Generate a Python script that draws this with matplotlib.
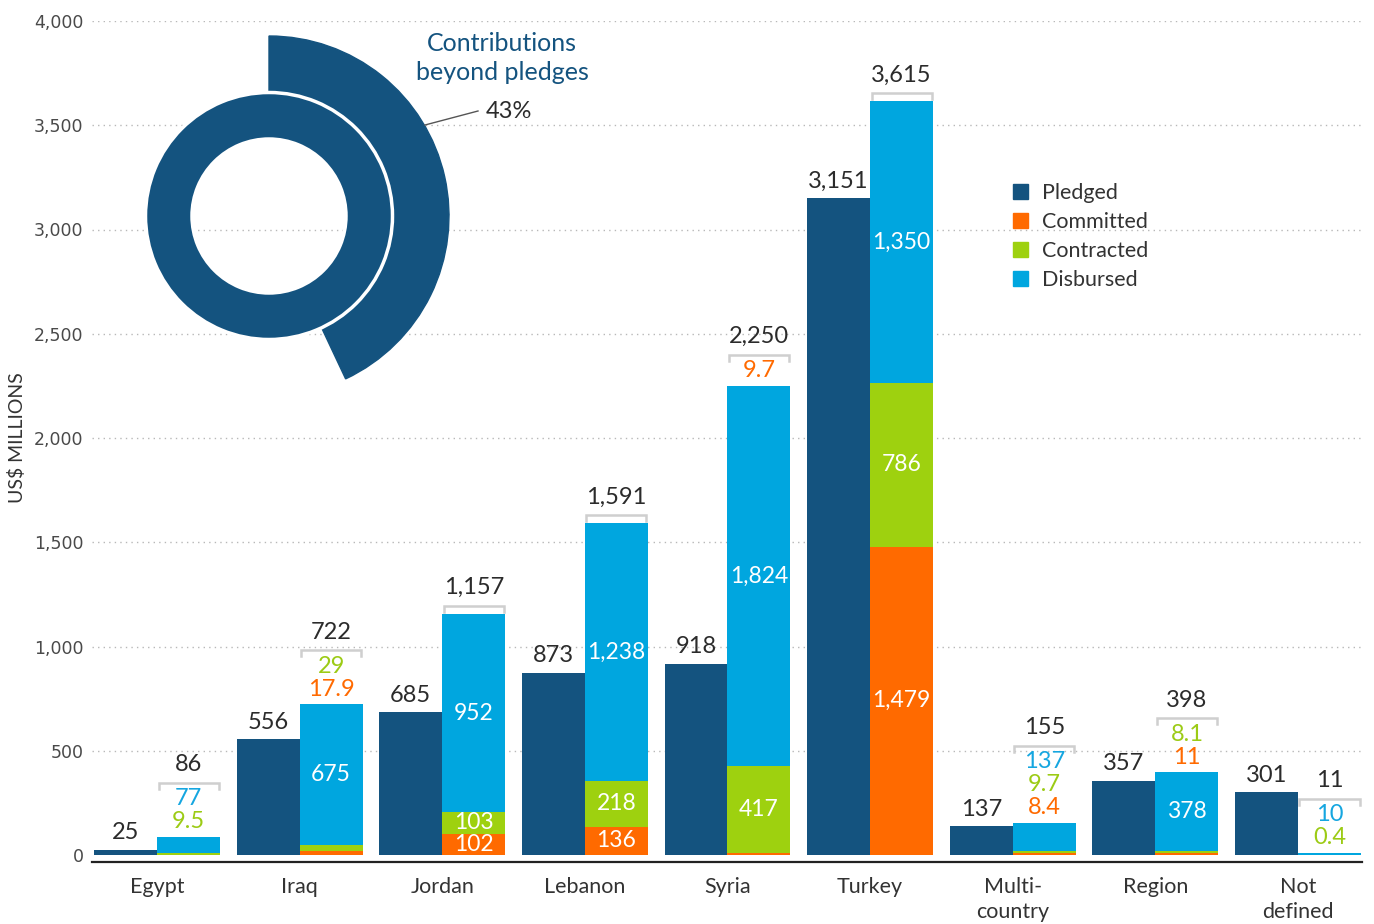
import matplotlib
matplotlib.use("Agg")
import matplotlib.pyplot as plt
from matplotlib.patches import Wedge, Patch
from matplotlib.lines import Line2D

plt.rcParams['font.family'] = ['Lato', 'DejaVu Sans']

# ---------------- data ----------------
countries = ["Egypt", "Iraq", "Jordan", "Lebanon", "Syria", "Turkey",
             "Multi-\ncountry", "Region", "Not\ndefined"]
pledged    = [25, 556, 685, 873, 918, 3151, 137, 357, 301]
committed  = [0, 17.9, 102, 136, 9.7, 1479, 8.4, 11, 0]
contracted = [9.5, 29, 103, 218, 417, 786, 9.7, 8.1, 0.4]
disbursed  = [77, 675, 952, 1238, 1824, 1350, 137, 378, 10]
totals     = [86, 722, 1157, 1591, 2250, 3615, 155, 398, 11]
# where each segment's value label goes: inside the bar, above it, or none
committed_pos  = ['', 'out', 'in', 'in', 'out', 'in', 'out', 'out', '']
contracted_pos = ['out', 'out', 'in', 'in', 'in', 'in', 'out', 'out', 'out']
disbursed_pos  = ['out', 'in', 'in', 'in', 'in', 'in', 'out', 'in', 'out']
legend_labels = ["Pledged", "Committed", "Contracted", "Disbursed"]
yticks = [0, 500, 1000, 1500, 2000, 2500, 3000, 3500, 4000]

# ---------------- style ----------------
C_PLEDGED = '#14537f'
C_COMMIT = '#ff6a00'
C_CONTRACT = '#9ed10f'
C_DISB = '#00a6df'
T_COMMIT = '#ff6a00'
T_CONTRACT = '#9ccb15'
T_DISB = '#15a6e0'
TXT = '#2b2b2b'

W, H = 1374, 924
fig = plt.figure(figsize=(W / 100, H / 100), dpi=100)
ax_l, ax_r, ax_b, ax_t = 92, 1362, 855, 21
ax = fig.add_axes([ax_l / W, 1 - ax_b / H, (ax_r - ax_l) / W, (ax_b - ax_t) / H])
ax.set_ylim(0, 4000)
step = 142.625
ax.set_xlim((ax_l - 157) / step, (ax_r - 157) / step)
for s in ax.spines.values():
    s.set_visible(False)

px = 4000 / (ax_b - ax_t)  # data units per pixel

for yv in yticks[1:]:
    ax.axhline(yv, color='#b8b8b8', lw=1, linestyle=(0, (1, 3)), zorder=0)

ax.set_yticks(yticks)
ax.set_yticklabels([f"{v:,}" for v in yticks], family='DejaVu Sans',
                   fontsize=12.5, color='#4a4a4a')
ax.tick_params(axis='y', length=0, pad=6)
ax.set_ylabel("US$ MILLIONS", fontsize=14, color='#333333', labelpad=6)

x = list(range(len(countries)))
bw = 63 / step
off = 31.5 / step
xp = [i - off for i in x]
xd = [i + off for i in x]

ax.bar(xp, pledged, width=bw, color=C_PLEDGED, zorder=2)
ax.bar(xd, committed, width=bw, color=C_COMMIT, zorder=2)
bot2 = [a for a in committed]
ax.bar(xd, contracted, width=bw, bottom=bot2, color=C_CONTRACT, zorder=2)
bot3 = [a + b for a, b in zip(committed, contracted)]
ax.bar(xd, disbursed, width=bw, bottom=bot3, color=C_DISB, zorder=2)

ax.set_xticks(x)
ax.set_xticklabels(countries, fontsize=15.5, color='#333333', linespacing=1.3)
ax.tick_params(axis='x', length=0, pad=16)

# baseline
xl = ax.get_xlim()
ax.add_line(Line2D(list(xl), [-7 * px, -7 * px], color='#222222',
                   lw=1.6, clip_on=False, zorder=3))


def fmt(v):
    if float(v).is_integer():
        return f"{int(v):,}"
    return f"{v}"


FS = 17
for i in range(len(countries)):
    # pledged label
    ax.text(xp[i], pledged[i] + 17 * px, fmt(pledged[i]), ha='center',
            va='center', fontsize=FS, color=TXT)
    top = committed[i] + contracted[i] + disbursed[i]
    segs = [(committed[i], 0, committed_pos[i], T_COMMIT),
            (contracted[i], committed[i], contracted_pos[i], T_CONTRACT),
            (disbursed[i], committed[i] + contracted[i], disbursed_pos[i], T_DISB)]
    ypx = 15
    last = None
    for val, base, pos, col in segs:
        if pos == 'in':
            ax.text(xd[i], base + val / 2, fmt(val), ha='center', va='center',
                    fontsize=FS - 0.5, color='white', zorder=4)
        elif pos == 'out':
            ax.text(xd[i], top + ypx * px, fmt(val), ha='center', va='center',
                    fontsize=FS, color=col, zorder=4)
            last = ypx
            ypx += 23
    br = (last + 16) if last is not None else 8
    yb = top + br * px
    x0, x1 = xd[i] - bw / 2 + 1.5 / step, xd[i] + bw / 2 - 1.5 / step
    ax.plot([x0, x0, x1, x1], [yb - 6 * px, yb, yb, yb - 6 * px],
            color='#cfcfcf', lw=1.8, zorder=3, solid_joinstyle='miter')
    ax.text(xd[i], yb + 18 * px, fmt(totals[i]), ha='center', va='center',
            fontsize=FS, color=TXT)

# legend
handles = [Patch(color=c) for c in [C_PLEDGED, C_COMMIT, C_CONTRACT, C_DISB]]
fig.legend(handles, legend_labels, loc='upper left',
           bbox_to_anchor=(1013 / W, 1 - 183 / H), frameon=False,
           fontsize=15.5, handlelength=0.7, handleheight=0.7,
           handletextpad=0.65, labelspacing=0.42, labelcolor='#333333',
           borderaxespad=0, borderpad=0)

# donut inset
cx, cy, R = 269, 216, 200
axd = fig.add_axes([(cx - R) / W, 1 - (cy + R) / H, 2 * R / W, 2 * R / H])
axd.set_xlim(-R, R)
axd.set_ylim(-R, R)
axd.axis('off')
axd.patch.set_alpha(0)
beyond_pct = (sum(totals) - sum(pledged)) / sum(pledged) * 100
share = round(beyond_pct)
ang = share / 100 * 360
axd.add_patch(Wedge((0, 0), 180, 90 - ang, 90, width=57, color=C_PLEDGED))
axd.add_patch(Wedge((0, 0), 123.5, 0, 360, width=46.5, facecolor=C_PLEDGED,
                    edgecolor='white', lw=2.5))
axd.plot([156, 209], [91, 105], color='#555555', lw=1, clip_on=False)
axd.text(217, 105, f"{share}%", ha='left', va='center', fontsize=17,
         color=TXT, clip_on=False)
axd.text(233, 158, "Contributions\nbeyond pledges", ha='center', va='center',
         fontsize=18, color=C_PLEDGED, linespacing=1.3, clip_on=False)

fig.savefig("out.png", dpi=100)
